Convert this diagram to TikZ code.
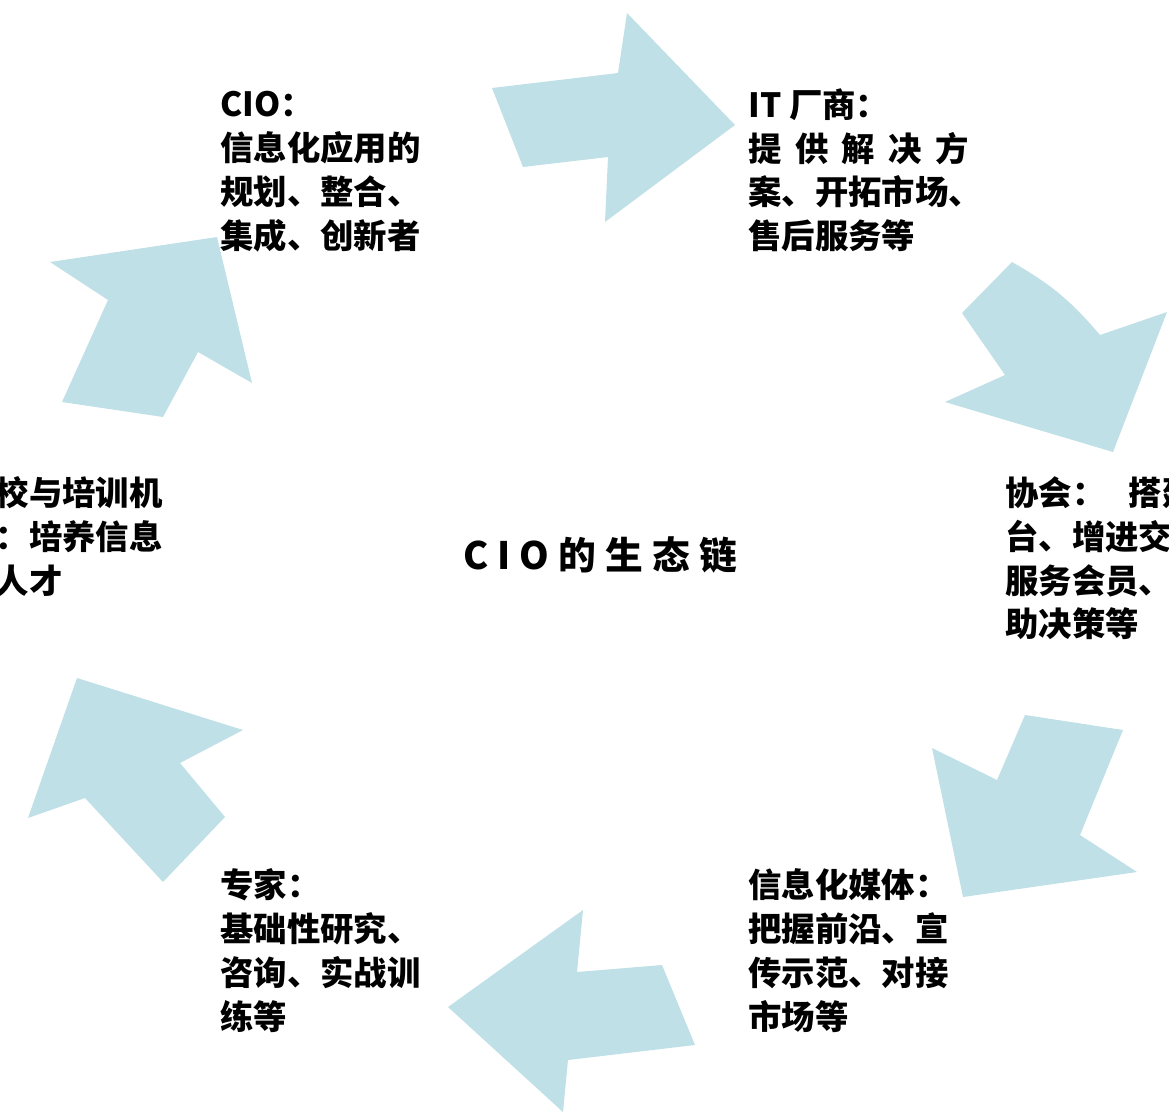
\documentclass[tikz,border=0pt]{standalone}
\usepackage{fontspec}
\newfontfamily\cjk{Noto Sans CJK SC}
\newfontfamily\cjkwide[LetterSpace=24]{Noto Sans CJK SC}
\definecolor{arrowblue}{RGB}{191,224,230}
\newcommand\wsp{\hspace{0.4em}}

\begin{document}
\begin{tikzpicture}[x=0.02cm,y=-0.02cm,
  chevron/.style={fill=arrowblue},
  blurb/.style={anchor=north west,inner sep=0pt,align=left,
    font=\cjk\bfseries\fontsize{19}{25}\selectfont}]
\useasboundingbox (0,0) rectangle (1169,1113);
\clip (0,0) rectangle (1169,1113);
% the six arrows round the ring
\fill[chevron] (492,88) -- (618,73) -- (627,13) -- (735,125) -- (605,222) -- (608,157) -- (523,167) -- cycle;
\fill[chevron] (962,313) -- (1012,262) to[bend left=10] (1100,335) -- (1167,312) -- (1113,452) -- (945,402) -- (1005,375) -- cycle;
\fill[chevron] (1025,715) -- (1123,730) -- (1080,835) -- (1137,872) -- (963,897) -- (932,748) -- (997,780) -- cycle;
\fill[chevron] (583,910) -- (577,972) -- (662,965) -- (695,1045) -- (568,1060) -- (563,1112) -- (448,1007) -- cycle;
\fill[chevron] (77,678) -- (243,730) -- (180,763) -- (225,817) -- (163,882) -- (85,798) -- (28,818) -- cycle;
\fill[chevron] (50,262) -- (217,237) -- (252,383) -- (198,352) -- (163,417) -- (62,402) -- (108,300) -- cycle;
% centre
\node[font=\cjkwide\bfseries\fontsize{21.5}{26}\selectfont] (chain) at (600,555) {CIO的生态链};
% the six players
\node[blurb] (cio) at (220,91) {CIO：\\信息化应用的\\规划、整合、\\集成、创新者};
\node[blurb] (vendor) at (748,88) {IT 厂商：\\提\wsp 供\wsp 解\wsp 决\wsp 方\\案、开拓市场、\\售后服务等};
\node[blurb] (assoc) at (1005,476) {协会：\hspace{0.7em}搭建平\\台、增进交流、\\服务会员、辅\\助决策等};
\node[blurb] (media) at (748,868) {信息化媒体：\\把握前沿、宣\\传示范、对接\\市场等};
\node[blurb] (expert) at (220,868) {专家：\\基础性研究、\\咨询、实战训\\练等};
\node[blurb] (school) at (-38,476) {学校与培训机\\构：培养信息\\化人才};
\end{tikzpicture}
\end{document}
